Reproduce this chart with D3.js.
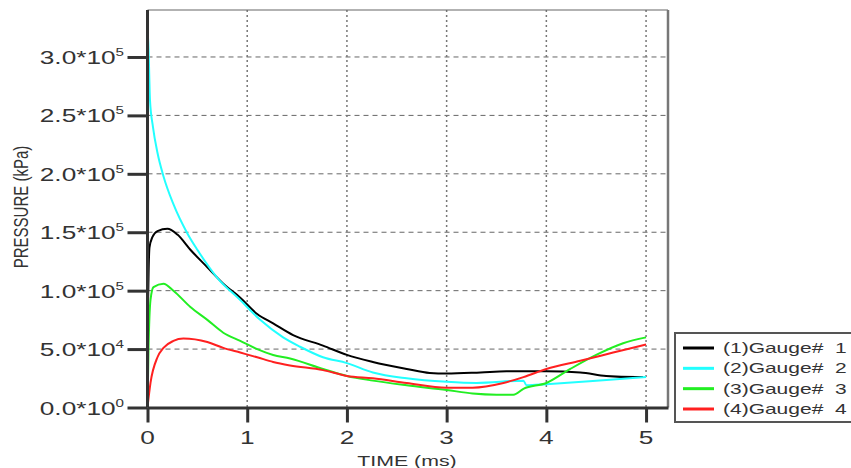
<!DOCTYPE html>
<html lang="en">
<head>
  <meta charset="UTF-8">
  <title>Gauge pressure</title>
  <script src="https://d3js.org/d3.v7.min.js"></script>
  <style>
    body { margin: 0; background: #fff; }
    text { font-family: "Liberation Sans", Arial, sans-serif; fill: #333; }
    .grid-h { stroke: #666; stroke-width: 1; stroke-dasharray: 5,4; }
    .grid-v { stroke: #777; stroke-width: 1.5; stroke-dasharray: 2,3; }
    .curve { fill: none; stroke-width: 2; }
  </style>
</head>
<body>
  <div id="chart"></div>
  <script>
    // values (time in ms, pressure in kPa)
    const gauge1T = [0, 0.005, 0.01, 0.02, 0.05, 0.1, 0.2, 0.3, 0.43, 0.6, 0.76, 0.93, 1.1, 1.26, 1.46, 1.76, 2.0, 2.26, 2.6, 2.83, 3.0, 3.34, 3.6, 4.0, 4.34, 4.6, 4.9, 4.97];
    const gauge1P = [0, 80000, 110000, 137000, 146000, 151000, 153000, 148000, 135000, 120000, 106000, 94000, 80000, 72000, 62000, 53000, 45000, 39000, 33000, 29500, 29000, 30000, 31000, 31000, 30000, 27000, 26000, 26000];

    const gauge2T = [0, 0.003, 0.025, 0.055, 0.1, 0.16, 0.26, 0.4, 0.5, 0.7, 0.93, 1.13, 1.36, 1.53, 1.76, 2.0, 2.26, 2.6, 3.0, 3.3, 3.77, 3.8, 4.0, 4.67, 5.0];
    const gauge2P = [240000, 323000, 263000, 240000, 218000, 198000, 174000, 149000, 135000, 111000, 92000, 75000, 60000, 52000, 43000, 38000, 30000, 25000, 22000, 21000, 23000, 19000, 20000, 24000, 26000];

    const gauge3T = [0, 0.01, 0.03, 0.06, 0.16, 0.26, 0.43, 0.6, 0.76, 0.93, 1.1, 1.26, 1.43, 1.76, 2.0, 2.26, 2.6, 3.0, 3.26, 3.5, 3.67, 3.77, 4.0, 4.24, 4.5, 4.77, 5.0];
    const gauge3P = [0, 49000, 92000, 103000, 106000, 100000, 86000, 75000, 64000, 57000, 50000, 45000, 42000, 33000, 27000, 23000, 19000, 15000, 12000, 11000, 11000, 16000, 21000, 33000, 45000, 55000, 60000];

    const gauge4T = [0, 0.03, 0.1, 0.16, 0.26, 0.36, 0.6, 0.76, 0.93, 1.1, 1.26, 1.43, 1.76, 2.0, 2.26, 2.6, 3.0, 3.26, 3.57, 3.77, 4.0, 4.34, 4.67, 5.0];
    const gauge4P = [0, 21000, 43000, 51000, 57000, 59000, 56000, 51000, 47000, 43000, 39000, 36000, 32000, 27000, 25000, 21000, 17000, 17000, 21000, 26000, 33000, 40000, 47000, 54000];

    const seriesNames = ["(1)Gauge#  1", "(2)Gauge#  2", "(3)Gauge#  3", "(4)Gauge#  4"];
    const seriesColors = ["#000000", "#22ffff", "#22ee22", "#ff2020"];
    const xTicks = [0, 1, 2, 3, 4, 5];
    const yTicks = [0, 50000, 100000, 150000, 200000, 250000, 300000];
    const xTitle = "TIME (ms)";
    const yTitle = "PRESSURE (kPa)";

    const series = [
      { t: gauge1T, p: gauge1P },
      { t: gauge2T, p: gauge2P },
      { t: gauge3T, p: gauge3P },
      { t: gauge4T, p: gauge4P }
    ].map((s, i) => ({
      name: seriesNames[i],
      color: seriesColors[i],
      values: s.t.map((t, j) => ({ t: t, p: s.p[j] }))
    }));

    const W = 851, H = 468;
    const SX = 1.38; // the text in the picture is drawn wide
    const plotL = 147.5, plotR = 668, plotT = 10, plotB = 407.5;

    const svg = d3.select("#chart").append("svg")
      .attr("width", W)
      .attr("height", H);

    const x = d3.scaleLinear().domain([0, 5.22]).range([plotL, plotR]);
    const y = d3.scaleLinear().domain([0, 340200]).range([plotB, plotT]);

    // grid
    svg.append("g").selectAll("line")
      .data(yTicks.filter(d => d > 0))
      .enter().append("line")
      .attr("class", "grid-h")
      .attr("x1", plotL).attr("x2", plotR)
      .attr("y1", d => y(d)).attr("y2", d => y(d));

    svg.append("g").selectAll("line")
      .data(xTicks.filter(d => d > 0))
      .enter().append("line")
      .attr("class", "grid-v")
      .attr("x1", d => x(d)).attr("x2", d => x(d))
      .attr("y1", plotT).attr("y2", plotB);

    // frame top and right
    svg.append("line")
      .attr("x1", plotL).attr("x2", plotR).attr("y1", plotT).attr("y2", plotT)
      .attr("stroke", "#666").attr("stroke-width", 1.2);
    svg.append("line")
      .attr("x1", plotR).attr("x2", plotR).attr("y1", plotT).attr("y2", plotB)
      .attr("stroke", "#777").attr("stroke-width", 2.5);

    // curves
    svg.append("clipPath").attr("id", "plot-clip")
      .append("rect")
      .attr("x", plotL).attr("y", plotT - 2)
      .attr("width", plotR - plotL).attr("height", plotB - plotT + 2);

    const line = d3.line()
      .x(d => x(d.t))
      .y(d => y(d.p))
      .curve(d3.curveMonotoneX);

    svg.append("g")
      .attr("clip-path", "url(#plot-clip)")
      .selectAll("path")
      .data(series)
      .enter().append("path")
      .attr("class", "curve")
      .attr("stroke", d => d.color)
      .attr("d", d => line(d.values));

    // axes
    const yAxis = svg.append("g")
      .attr("transform", `translate(${plotL},0)`)
      .call(d3.axisLeft(y).tickValues(yTicks).tickSize(20).tickSizeOuter(0).tickFormat(""));
    yAxis.select(".domain").attr("stroke", "#333").attr("stroke-width", 3)
      .attr("d", `M0,${plotB}V${plotT}`);
    yAxis.selectAll(".tick line").attr("stroke", "#333").attr("stroke-width", 3);

    const xAxis = svg.append("g")
      .attr("transform", `translate(0,${plotB})`)
      .call(d3.axisBottom(x).tickValues(xTicks).tickSize(15).tickSizeOuter(0).tickFormat(""));
    xAxis.select(".domain").attr("stroke", "#333").attr("stroke-width", 3);
    xAxis.selectAll(".tick line").attr("stroke", "#333").attr("stroke-width", 3);

    // y tick labels like 3.0*10^5
    function mantExp(v) {
      if (v === 0) return ["0.0", "0"];
      const e = Math.floor(Math.log10(v));
      return [(v / Math.pow(10, e)).toFixed(1), String(e)];
    }

    yTicks.forEach(v => {
      const me = mantExp(v);
      const t = svg.append("g")
        .attr("transform", `translate(124,${y(v) + 7}) scale(${SX},1)`)
        .append("text")
        .attr("text-anchor", "end")
        .attr("font-size", 19);
      t.append("tspan").text(me[0] + "*10");
      t.append("tspan").attr("font-size", 11).attr("dy", -8).text(me[1]);
    });

    xTicks.forEach(v => {
      svg.append("g")
        .attr("transform", `translate(${x(v)},444) scale(${SX},1)`)
        .append("text")
        .attr("text-anchor", "middle")
        .attr("font-size", 19)
        .text(v);
    });

    // axis titles
    svg.append("g")
      .attr("transform", `translate(407,466) scale(1.42,1)`)
      .append("text")
      .attr("text-anchor", "middle")
      .attr("font-size", 15)
      .text(xTitle);

    svg.append("g")
      .attr("transform", `translate(28,207) scale(${SX},1) rotate(-90)`)
      .append("text")
      .attr("text-anchor", "middle")
      .attr("font-size", 15)
      .text(yTitle);

    // legend
    const legend = svg.append("g");
    legend.append("rect")
      .attr("x", 675).attr("y", 333)
      .attr("width", 200).attr("height", 89)
      .attr("fill", "#fff")
      .attr("stroke", "#555").attr("stroke-width", 2);

    const rowY = d3.scalePoint().domain(seriesNames).range([348, 409]);
    const rows = legend.selectAll(".row")
      .data(series)
      .enter().append("g")
      .attr("class", "row")
      .attr("transform", d => `translate(0,${rowY(d.name)})`);
    rows.append("line")
      .attr("x1", 683).attr("x2", 714)
      .attr("stroke", d => d.color).attr("stroke-width", 3);
    rows.append("g")
      .attr("transform", `translate(723,5) scale(1.5,1)`)
      .append("text")
      .attr("font-size", 14)
      .style("white-space", "pre")
      .attr("xml:space", "preserve")
      .text(d => d.name);
  </script>
</body>
</html>
